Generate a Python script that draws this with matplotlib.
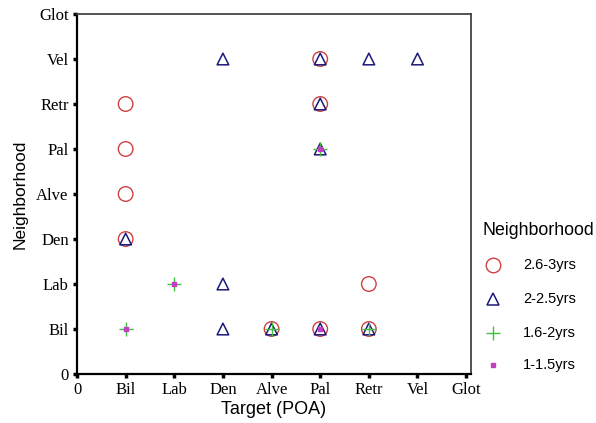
import matplotlib
matplotlib.use("Agg")
import matplotlib.pyplot as plt
from matplotlib.lines import Line2D

# place of articulation categories (0..8)
labels = ["0", "Bil", "Lab", "Den", "Alve", "Pal", "Retr", "Vel", "Glot"]

# target x, neighborhood y for each age group
x_26_3 = [1, 1, 1, 1, 5, 5, 6, 4, 5, 6]
y_26_3 = [6, 5, 4, 3, 7, 6, 2, 1, 1, 1]

x_2_25 = [3, 5, 6, 7, 5, 5, 1, 3, 3, 4, 5, 6]
y_2_25 = [7, 7, 7, 7, 6, 5, 3, 2, 1, 1, 1, 1]

x_16_2 = [1, 2, 5, 4, 6]
y_16_2 = [1, 2, 5, 1, 1]

x_1_15 = [1, 2, 5, 5]
y_1_15 = [1, 2, 5, 1]

W, H = 596, 423
fig = plt.figure(figsize=(W / 100, H / 100), dpi=100)
ax = fig.add_axes([77 / W, 1 - 374 / H, (471 - 77) / W, (374 - 14) / H])

groups = [
    (x_26_3, y_26_3, "2.6-3yrs", dict(s=110, marker="o", facecolors="none",
                                      edgecolors="#d04040", linewidths=1.0)),
    (x_2_25, y_2_25, "2-2.5yrs", dict(s=70, marker="^", facecolors="none",
                                      edgecolors="#1a1a7a", linewidths=1.1)),
    (x_16_2, y_16_2, "1.6-2yrs", dict(s=90, marker="+", color="#40c040",
                                      linewidths=1.0)),
    (x_1_15, y_1_15, "1-1.5yrs", dict(s=10, marker="s", color="#c040c0")),
]
for i, (xs, ys, lab, style) in enumerate(groups):
    ax.scatter(xs, ys, label=lab, zorder=3 + i, **style)

ax.set_xlim(0, 8.1)
ax.set_ylim(0, 8)
ax.set_xticks(range(9))
ax.set_yticks(range(9))
ax.set_xticklabels(labels, family="Liberation Serif", fontsize=12)
ax.set_yticklabels(labels, family="Liberation Serif", fontsize=12)
ax.tick_params(direction="out", length=3, width=2.5, color="black", pad=3)

ax.set_xlabel("Target (POA)", family="Liberation Sans", fontsize=13, labelpad=2)
ax.set_ylabel("Neighborhood", family="Liberation Sans", fontsize=12.5, labelpad=6)

for side in ["left", "bottom"]:
    ax.spines[side].set_linewidth(1.6)
    ax.spines[side].set_color("black")
for side in ["top", "right"]:
    ax.spines[side].set_linewidth(1.3)
    ax.spines[side].set_color("#444444")

# legend drawn by hand so rows sit where the original puts them
fig.text(482 / W, 1 - 230 / H, "Neighborhood", family="Liberation Sans",
         fontsize=12.8, va="center", ha="left")
row_y = [265, 299, 333, 365]
for (xs, ys, lab, style), ry in zip(groups, row_y):
    yf = 1 - ry / H
    ms = style["s"] ** 0.5
    if style["marker"] in ("o", "^"):
        h = Line2D([493 / W], [yf], marker=style["marker"], markersize=ms,
                   markerfacecolor="none", markeredgecolor=style["edgecolors"],
                   markeredgewidth=style["linewidths"], linestyle="none",
                   transform=fig.transFigure)
    else:
        h = Line2D([493 / W], [yf], marker=style["marker"], markersize=ms,
                   color=style["color"], markeredgewidth=style.get("linewidths", 1.0),
                   linestyle="none", transform=fig.transFigure)
    fig.add_artist(h)
    fig.text(523 / W, yf, lab, family="Liberation Sans", fontsize=10.5,
             va="center", ha="left")

fig.savefig("out.png", dpi=100)
